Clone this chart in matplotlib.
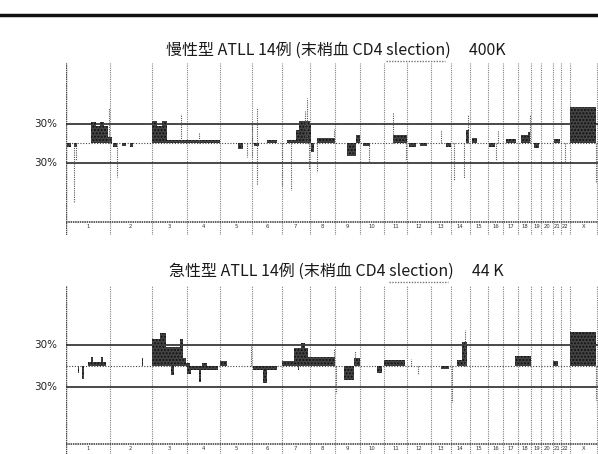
import matplotlib
matplotlib.use("Agg")
import matplotlib.pyplot as plt
from matplotlib.lines import Line2D

plt.rcParams['font.family'] = ['Noto Sans CJK JP', 'DejaVu Sans']

# chromosome names and lengths (Mb)
chroms = ['1', '2', '3', '4', '5', '6', '7', '8', '9', '10', '11', '12', '13',
          '14', '15', '16', '17', '18', '19', '20', '21', '22', 'X', 'Y']
chrom_len = [249, 243, 198, 191, 181, 171, 159, 146, 141, 136, 135, 134, 115,
             107, 103, 90, 81, 78, 59, 63, 48, 51, 155, 59]

title_head = ['慢性型 ATLL 14例 (末梢血 CD4 ', '急性型 ATLL 14例 (末梢血 CD4 ']
title_word = 'slection'
title_tail = [')     400K', ')     44 K']

# (chrom, start Mb, end Mb, frequency %)
chronic_gain = [
    ('1', 141, 171, 33), ('1', 171, 194, 27), ('1', 194, 217, 33), ('1', 217, 239, 27),
    ('1', 239, 249, 10), ('2', 0, 13, 10),
    ('3', 0, 27, 35), ('3', 27, 55, 27), ('3', 55, 84, 35), ('3', 84, 198, 5), ('4', 0, 191, 5),
    ('6', 84, 146, 5),
    ('7', 32, 84, 5), ('7', 84, 101, 20), ('7', 101, 159, 35), ('8', 0, 8, 30),
    ('8', 44, 146, 8), ('9', 121, 141, 13),
    ('11', 55, 135, 13),
    ('14', 87, 104, 20),
    ('15', 14, 42, 8),
    ('17', 15, 72, 7),
    ('18', 20, 60, 13), ('18', 60, 72, 18),
    ('21', 7, 42, 7),
    ('X', 0, 152, 56),
]
chronic_loss = [
    ('1', 5, 30, -5), ('1', 45, 65, -5), ('2', 20, 40, -5), ('2', 70, 95, -4), ('2', 115, 135, -5),
    ('5', 99, 128, -8), ('6', 10, 40, -4), ('8', 10, 27, -13), ('9', 69, 121, -20),
    ('10', 20, 60, -4), ('12', 10, 50, -5), ('12', 70, 110, -4), ('13', 88, 115, -5),
    ('16', 10, 40, -5), ('19', 15, 44, -7),
]
# (chrom, position Mb, frequency %) thin marks
chronic_spikes = [
    ('1', 45, -92), ('1', 55, -25), ('1', 245, 55), ('2', 45, -52), ('3', 163, 45),
    ('4', 68, 18), ('5', 151, -21), ('5', 179, 33), ('5', 179, -21), ('6', 27, 55),
    ('6', 27, -64), ('7', 3, -66), ('7', 55, -72), ('7', 130, 50), ('7', 146, 70),
    ('7', 158, -40), ('8', 44, -44), ('8', 141, 22), ('10', 54, -28), ('11', 55, 49),
    ('11', 129, -25), ('13', 59, 20), ('14', 18, -56), ('14', 75, -53), ('14', 100, 44),
    ('16', 48, -25), ('16', 60, 20), ('18', 74, 44), ('22', 22, -30), ('X', 152, -60),
]

acute_gain = [
    ('1', 125, 228, 6), ('1', 142, 154, 13), ('1', 200, 211, 13),
    ('2', 184, 190, 12),
    ('3', 0, 44, 39), ('3', 44, 78, 48), ('3', 78, 158, 27), ('3', 158, 175, 39),
    ('3', 175, 192, 12), ('3', 192, 198, 5), ('4', 0, 16, 5),
    ('4', 85, 113, 5),
    ('5', 0, 40, 7),
    ('7', 4, 72, 7), ('7', 72, 112, 26), ('7', 112, 135, 33), ('7', 135, 147, 26),
    ('7', 147, 159, 13), ('8', 0, 146, 13),
    ('9', 109, 141, 12),
    ('11', 0, 123, 9),
    ('14', 35, 64, 9), ('14', 64, 93, 35),
    ('17', 66, 81, 14), ('18', 0, 78, 14),
    ('21', 0, 30, 8),
    ('X', 0, 150, 49),
]
acute_loss = [
    ('1', 68, 76, -10), ('1', 90, 100, -19),
    ('3', 110, 125, -13),
    ('4', 0, 23, -12), ('4', 17, 176, -6), ('4', 68, 80, -23),
    ('6', 4, 146, -6), ('6', 61, 89, -24),
    ('7', 90, 100, -6),
    ('9', 52, 109, -20),
    ('10', 99, 128, -10),
    ('13', 59, 105, -5),
]
acute_spikes = [
    ('5', 175, 30), ('8', 141, 25), ('9', 5, -39), ('9', 112, 22), ('12', 20, 10),
    ('12', 60, -12), ('14', 5, -52), ('14', 81, 52), ('X', 152, -49),
]

starts = {}
acc = 0
for c, l in zip(chroms, chrom_len):
    starts[c] = acc
    acc += l


def draw_segments(ax, segs):
    x = [starts[c] + s for c, s, e, v in segs]
    w = [e - s for c, s, e, v in segs]
    h = [v for c, s, e, v in segs]
    ax.bar(x, h, width=w, align='edge', color='#444444', edgecolor='#111111',
           hatch='.....', linewidth=0, zorder=3)


def draw_panel(ax, gains, losses, spikes, ylim, axis_y):
    ax.set_xlim(0, 3040)
    ax.set_ylim(*ylim)
    ax.axis('off')
    # chromosome borders
    acc = 0
    for c, l in zip(chroms[:23], chrom_len[:23]):
        ax.axvline(acc, color='#808080', lw=0.8, ls=(0, (1, 1)), zorder=1)
        ax.text(acc + l / 2, axis_y - 3, c, fontsize=3.8, ha='center', va='top',
                family='DejaVu Sans', color='#333333')
        acc += l
    ax.axvline(acc, color='#808080', lw=0.8, ls=(0, (1, 1)), zorder=1)
    ax.axvline(0, color='#444444', lw=1.0, ls=(0, (1, 0.6)), zorder=2)
    ax.axhline(30, color='#2a2a2a', lw=1.2, zorder=2)
    ax.axhline(-30, color='#2a2a2a', lw=1.2, zorder=2)
    ax.axhline(0, color='#444444', lw=0.8, ls=(0, (1, 1.5)), zorder=2)
    ax.axhline(axis_y, color='#333333', lw=1.1, ls=(0, (1, 0.5)), zorder=2)
    draw_segments(ax, gains)
    draw_segments(ax, losses)
    for c, p, v in spikes:
        ax.vlines(starts[c] + p, 0, v, color='#555555', lw=0.8, ls=(0, (1, 1)), zorder=3)
    for v in (30, -30):
        ax.text(-0.017, v, '30%', transform=ax.get_yaxis_transform(), ha='right',
                va='center', fontsize=7.5, family='DejaVu Sans', color='#222222')


def text_width(fig, s, r):
    t = fig.text(0, 0, s, fontsize=11.5)
    w = t.get_window_extent(r).width
    t.remove()
    return w


def draw_title(fig, head, tail, xc, y):
    # centred title with a dotted spell-check underline under the misspelt word
    r = fig.canvas.get_renderer()
    full = head + title_word + tail
    fig.text(xc, y, full, fontsize=11.5, ha='center', va='center', color='#1a1a1a')
    W = fig.bbox.width
    w_full = text_width(fig, full, r)
    w_hw = text_width(fig, head + title_word, r)
    w_w = text_width(fig, title_word, r)
    left = xc * W - w_full / 2
    x0 = (left + w_hw - w_w) / W
    x1 = (left + w_hw) / W
    uy = y - 11 / fig.bbox.height
    fig.add_artist(Line2D([x0, x1], [uy, uy], transform=fig.transFigure,
                          color='#777777', lw=1.0, ls=(0, (1, 1))))


fig = plt.figure(figsize=(5.98, 4.54), dpi=100)
W, H = 598, 454

ax1 = fig.add_axes([66 / W, 1 - 235 / H, 532 / W, (235 - 63) / H])
draw_panel(ax1, chronic_gain, chronic_loss, chronic_spikes, (-140.8, 123.8), -120.8)

ax2 = fig.add_axes([66 / W, 0, 532 / W, (454 - 286) / H])
draw_panel(ax2, acute_gain, acute_loss, acute_spikes, (-127.5, 116), -113)

fig.add_artist(Line2D([0, 1], [1 - 15 / H, 1 - 15 / H], transform=fig.transFigure,
                      color='#111111', lw=2.5))
draw_title(fig, title_head[0], title_tail[0], 336 / W, 1 - 50 / H)
draw_title(fig, title_head[1], title_tail[1], 336 / W, 1 - 271 / H)

fig.savefig('out.png', dpi=100)
